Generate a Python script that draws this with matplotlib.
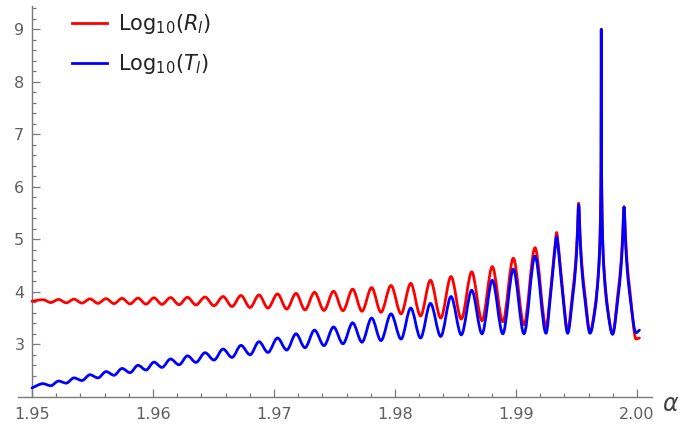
import numpy as np
import matplotlib
matplotlib.use("Agg")
import matplotlib.pyplot as plt
from matplotlib.path import Path
from matplotlib.patches import PathPatch
from matplotlib.lines import Line2D
from matplotlib.ticker import FixedLocator, FixedFormatter

# ---------------- data ----------------
alpha_start, alpha_end = 1.95, 2.0002
red_start, red_end = 3.82, 3.12
blue_start, blue_end = 2.17, 3.27

peak_alpha = [1.95091, 1.95219, 1.95347, 1.95479, 1.95612, 1.95744, 1.95876, 1.96008,
              1.96145, 1.96285, 1.96430, 1.96579, 1.96727, 1.96876, 1.97029, 1.97182,
              1.97335, 1.97492, 1.97650, 1.97807, 1.97967, 1.98130, 1.98293, 1.98463,
              1.98634, 1.98804, 1.98978, 1.99157, 1.99336, 1.99518, 1.99705, 1.99893]
trough_alpha = [1.95155, 1.95283, 1.95413, 1.95545, 1.95678, 1.95810, 1.95942, 1.96074,
                1.96215, 1.96355, 1.96504, 1.96653, 1.96802, 1.96950, 1.97105, 1.97256,
                1.97413, 1.97570, 1.97727, 1.97884, 1.98050, 1.98211, 1.98378, 1.98548,
                1.98719, 1.98891, 1.99066, 1.99248, 1.99427, 1.99612, 1.99798, 1.99992]

red_peak = [3.85, 3.855, 3.86, 3.865, 3.87, 3.875, 3.88, 3.885, 3.89, 3.895, 3.90, 3.91,
            3.93, 3.94, 3.96, 3.97, 3.99, 4.01, 4.05, 4.08, 4.12, 4.16, 4.22, 4.29,
            4.38, 4.48, 4.64, 4.84, 5.13, 5.69, 9.0, 5.61]
red_trough = [3.795, 3.79, 3.785, 3.78, 3.775, 3.77, 3.765, 3.76, 3.755, 3.75, 3.735, 3.72,
              3.70, 3.69, 3.67, 3.655, 3.645, 3.64, 3.63, 3.61, 3.58, 3.54, 3.50, 3.48,
              3.45, 3.43, 3.37, 3.34, 3.27, 3.24, 3.20, 3.10]
blue_peak = [2.25, 2.30, 2.36, 2.42, 2.48, 2.54, 2.60, 2.66, 2.72, 2.78, 2.84, 2.91,
             2.98, 3.05, 3.12, 3.20, 3.27, 3.33, 3.41, 3.50, 3.58, 3.69, 3.78, 3.91,
             4.03, 4.22, 4.43, 4.68, 5.05, 5.65, 9.0, 5.62]
blue_trough = [2.21, 2.26, 2.31, 2.36, 2.41, 2.46, 2.51, 2.56, 2.61, 2.655, 2.70, 2.75,
               2.80, 2.845, 2.89, 2.935, 2.975, 3.01, 3.04, 3.07, 3.10, 3.12, 3.15, 3.18,
               3.20, 3.20, 3.20, 3.21, 3.21, 3.21, 3.19, 3.22]

# flank points of the sharp resonances closest to alpha = 2
flank_alpha = [1.99286, 1.99311, 1.99324, 1.99348, 1.99361, 1.99386,
               1.99468, 1.99493, 1.99506, 1.99530, 1.99543, 1.99568,
               1.99655, 1.99680, 1.99693, 1.99697, 1.99701, 1.99703,
               1.99707, 1.99709, 1.99713, 1.99717, 1.99730, 1.99755,
               1.99843, 1.99868, 1.99881, 1.99905, 1.99918, 1.99943]
red_flank = [4.02, 4.62, 4.92, 4.92, 4.62, 4.02,
             3.99, 4.56, 5.08, 5.08, 4.56, 3.99,
             3.74, 4.35, 4.95, 5.30, 5.90, 6.50,
             6.50, 5.90, 5.30, 4.95, 4.35, 3.74,
             3.99, 4.56, 5.06, 5.06, 4.56, 3.99]
blue_flank = [3.95, 4.55, 4.85, 4.85, 4.55, 3.95,
              3.89, 4.47, 4.99, 4.99, 4.47, 3.89,
              3.69, 4.30, 4.90, 5.25, 5.85, 6.45,
              6.45, 5.85, 5.25, 4.90, 4.30, 3.69,
              3.89, 4.46, 4.98, 4.98, 4.46, 3.89]

x_ticks = [1.95, 1.96, 1.97, 1.98, 1.99, 2.00]
x_tick_labels = ["1.95", "1.96", "1.97", "1.98", "1.99", "2.00"]
y_ticks = [3, 4, 5, 6, 7, 8, 9]
y_tick_labels = ["3", "4", "5", "6", "7", "8", "9"]
series_labels = [r"Log$_{10}$($R_l$)", r"Log$_{10}$($T_l$)"]


def series_points(start, peaks, troughs, flank, end):
    xs = [alpha_start] + peak_alpha + trough_alpha + flank_alpha + [alpha_end]
    ys = [start] + peaks + troughs + flank + [end]
    order = np.argsort(xs)
    return np.asarray(xs)[order], np.asarray(ys)[order]


def smooth_path(xs, ys):
    """Shape-preserving cubic (PCHIP) through the read points, drawn as Bezier segments."""
    h = np.diff(xs)
    d = np.diff(ys) / h
    n = len(xs)
    m = np.zeros(n)
    m[0], m[-1] = d[0], d[-1]
    for i in range(1, n - 1):
        if d[i - 1] * d[i] > 0:
            w1 = 2 * h[i] + h[i - 1]
            w2 = h[i] + 2 * h[i - 1]
            m[i] = (w1 + w2) / (w1 / d[i - 1] + w2 / d[i])
    verts = [(xs[0], ys[0])]
    codes = [Path.MOVETO]
    for i in range(n - 1):
        verts += [(xs[i] + h[i] / 3, ys[i] + m[i] * h[i] / 3),
                  (xs[i + 1] - h[i] / 3, ys[i + 1] - m[i + 1] * h[i] / 3),
                  (xs[i + 1], ys[i + 1])]
        codes += [Path.CURVE4] * 3
    return Path(verts, codes)


fig = plt.figure(figsize=(6.83, 4.26), dpi=100)
ax = fig.add_axes([18 / 683, 29 / 426, 634 / 683, 391 / 426])

red_color, blue_color = "#ff0000", "#0000ff"
for (start, pk, tr, fl, end, col, z) in [
        (red_start, red_peak, red_trough, red_flank, red_end, red_color, 3),
        (blue_start, blue_peak, blue_trough, blue_flank, blue_end, blue_color, 4)]:
    xs, ys = series_points(start, pk, tr, fl, end)
    patch = PathPatch(smooth_path(xs, ys), facecolor="none", edgecolor=col,
                      lw=2.0, capstyle="round", joinstyle="round", zorder=z)
    ax.add_patch(patch)

ax.set_xlim(1.948843, 2.00124)
ax.set_ylim(1.996, 9.444)

for s in ("top", "right"):
    ax.spines[s].set_visible(False)
ax.spines["left"].set_position(("data", 1.95))
axis_col = "#7a7a7a"
for s in ("left", "bottom"):
    ax.spines[s].set_color(axis_col)
    ax.spines[s].set_linewidth(1.0)

ax.xaxis.set_major_locator(FixedLocator(x_ticks))
ax.xaxis.set_major_formatter(FixedFormatter(x_tick_labels))
ax.xaxis.set_minor_locator(FixedLocator([v for v in np.arange(1.952, 2.0005, 0.002)
                                         if min(abs(v - t) for t in x_ticks) > 1e-6]))
ax.yaxis.set_major_locator(FixedLocator(y_ticks))
ax.yaxis.set_major_formatter(FixedFormatter(y_tick_labels))
ax.yaxis.set_minor_locator(FixedLocator([v for v in np.arange(2.2, 9.45, 0.2)
                                         if min(abs(v - t) for t in y_ticks) > 1e-6]))

ax.tick_params(which="both", direction="in", color=axis_col, labelcolor="#5f5f5f",
               labelsize=11.5)
ax.tick_params(which="major", length=5.5, width=0.9)
ax.tick_params(which="minor", length=3.2, width=0.9)
ax.tick_params(axis="y", which="major", pad=5.5)
ax.tick_params(axis="x", which="major", pad=7)

fig.text(671 / 683, 1 - 404 / 426, r"$\alpha$", ha="center", va="center",
         fontsize=17, color="#444444")

handles = [Line2D([], [], color=red_color, lw=2.0),
           Line2D([], [], color=blue_color, lw=2.0)]
leg = ax.legend(handles, series_labels, loc="upper left",
                bbox_to_anchor=(72 / 683, 1 - 12 / 426), bbox_transform=fig.transFigure,
                frameon=False, fontsize=15, handlelength=1.68, handletextpad=0.53,
                labelspacing=0.76, borderpad=0, borderaxespad=0)
for t in leg.get_texts():
    t.set_color("#222222")

fig.savefig("out.png", dpi=100)
